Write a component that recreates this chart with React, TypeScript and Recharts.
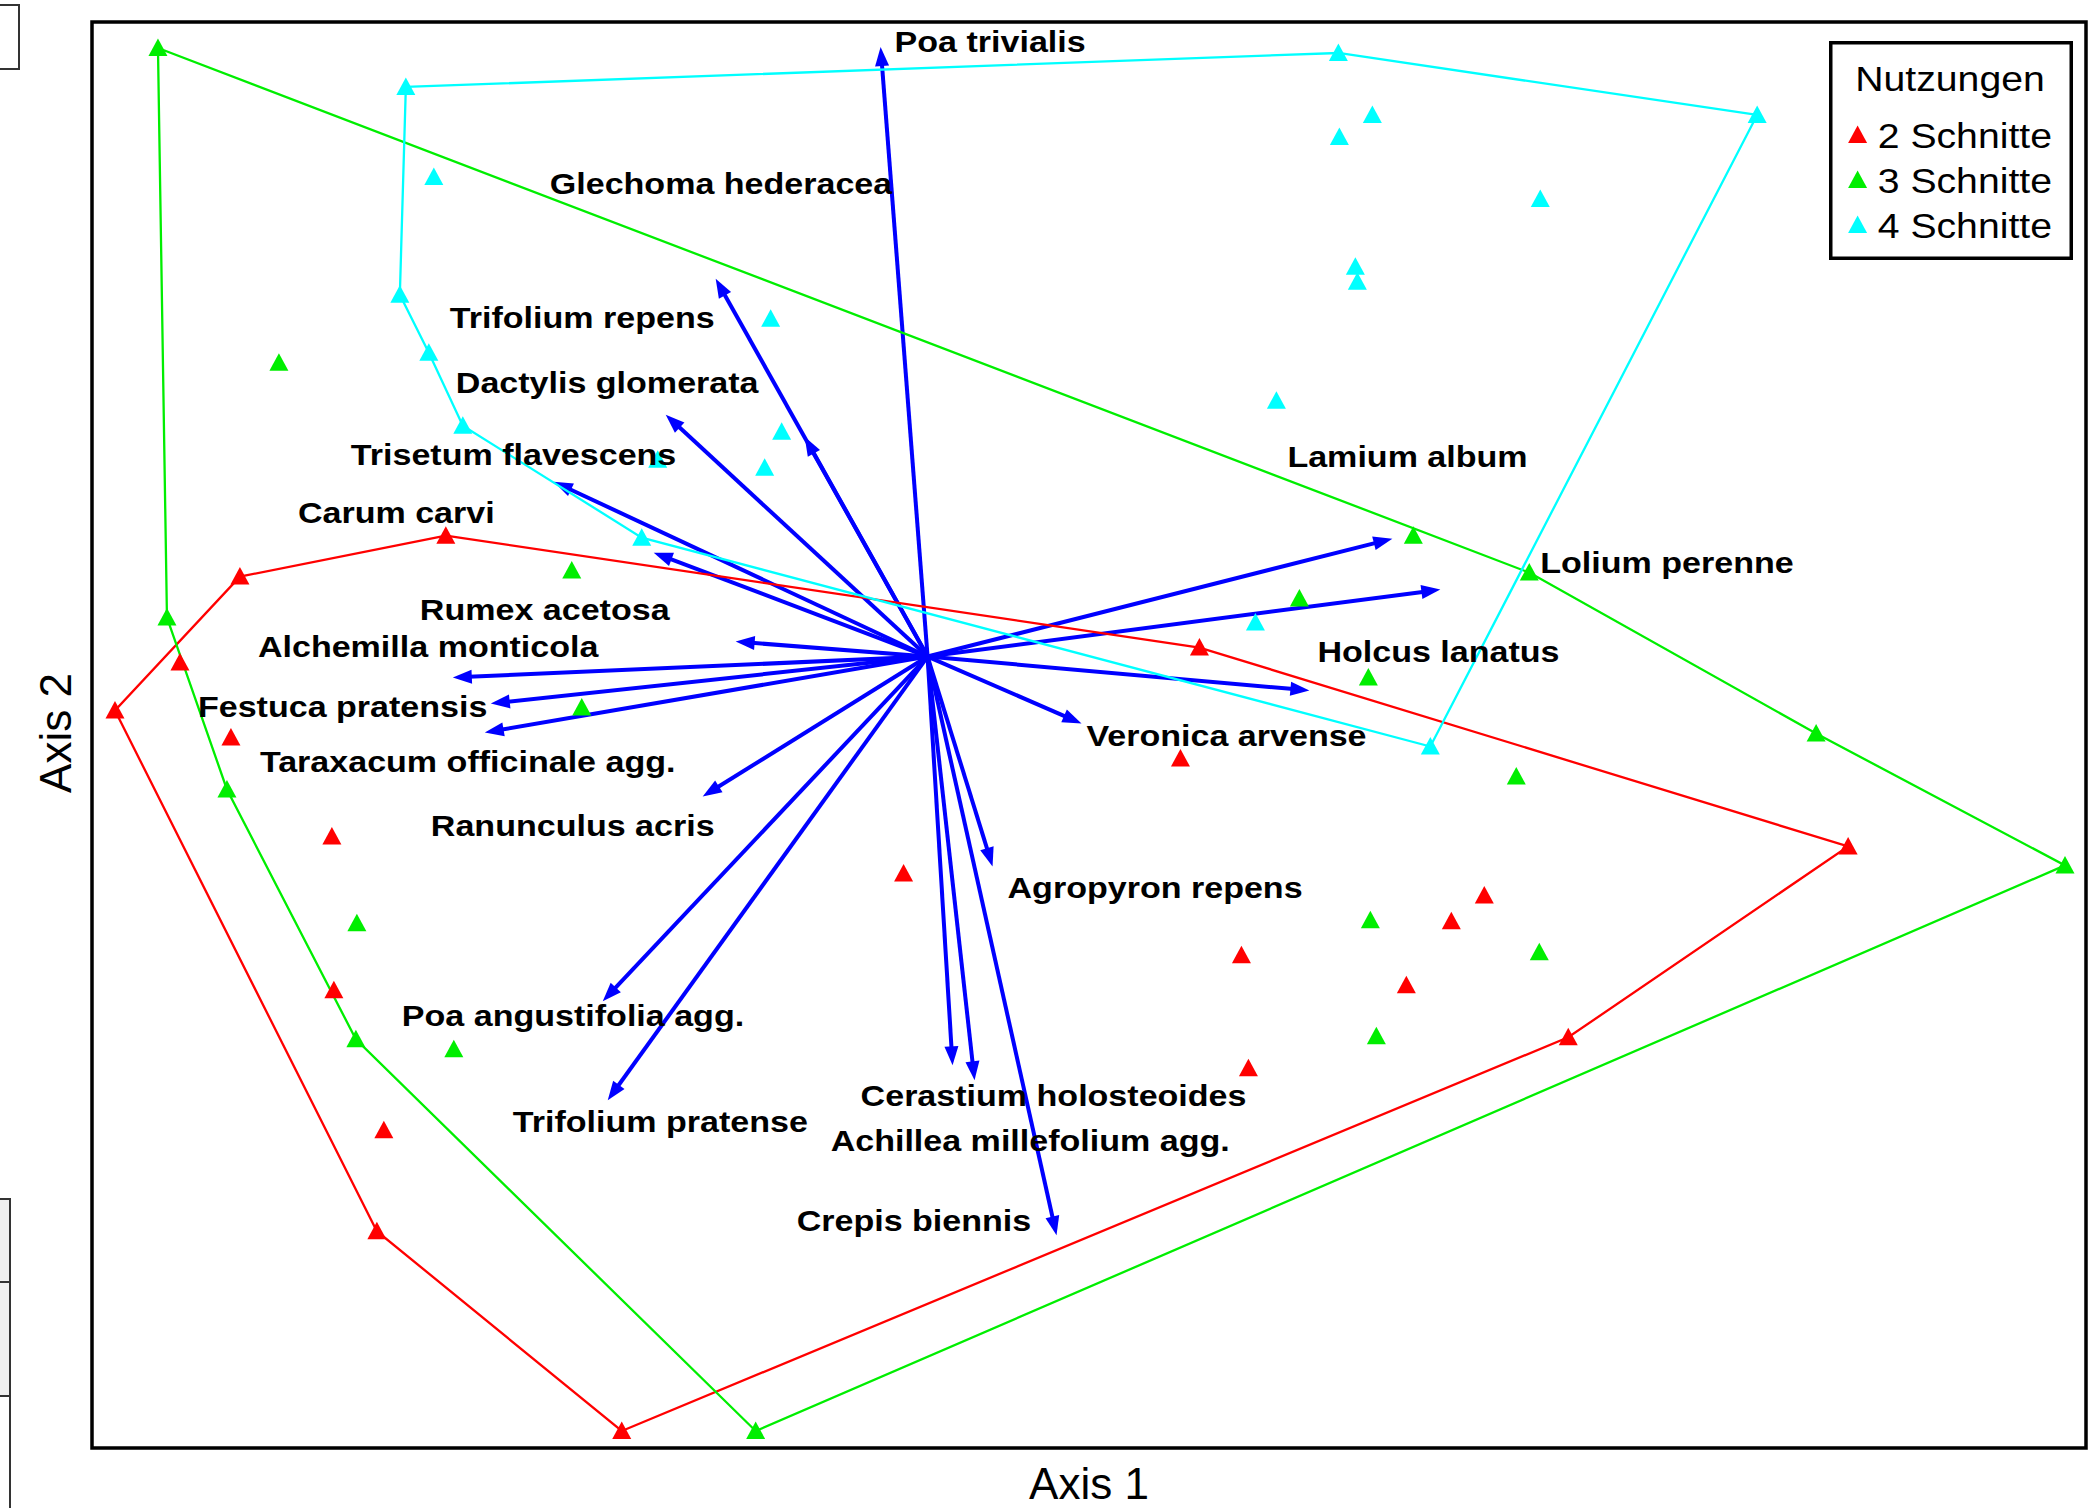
import React from 'react'
import { ScatterChart, Scatter, XAxis, YAxis, ReferenceLine, ReferenceArea, Legend } from 'recharts'

// axis limits (ordination units, origin = centre of the species arrows)
const X_DOMAIN: [number, number] = [-8.36, 11.59]
const Y_DOMAIN: [number, number] = [-7.92, 6.35]

// sites, 2 Schnitte
const cut2X = [-4.82, -6.88, -7.48, -8.13, -6.97, -5.96, -5.94, -5.44, -5.51, -3.06, 6.41, 9.21, 2.72, 2.53, -0.24, 3.14, 3.21, 4.79, 5.24, 5.57]
const cut2Y = [1.21, 0.8, -0.06, -0.54, -0.81, -1.8, -3.34, -4.74, -5.75, -7.75, -3.81, -1.9, 0.09, -1.02, -2.17, -2.99, -4.12, -3.29, -2.65, -2.39]
const cut2Hull = [0, 12, 11, 10, 9, 8, 3, 1, 0]

// sites, 3 Schnitte
const cut3X = [-7.7, -7.61, -7.01, -5.72, -1.72, 11.38, 8.89, 6.02, -6.49, -3.56, -3.46, -5.71, -4.74, 4.86, 3.72, 4.41, 5.89, 4.43, 6.12, 4.49]
const cut3Y = [6.09, 0.39, -1.33, -3.83, -7.75, -2.09, -0.77, 0.84, 2.94, 0.86, -0.51, -2.67, -3.93, 1.21, 0.58, -0.21, -1.2, -2.64, -2.96, -3.8]
const cut3Hull = [0, 7, 6, 5, 4, 3, 2, 1, 0]

// sites, 4 Schnitte
const cut4X = [-5.22, 4.11, 8.3, 5.03, -2.86, -4.65, -4.99, -5.28, -4.94, 4.45, 4.12, 6.13, 4.28, 4.3, 3.49, -1.57, -1.46, -1.63, -2.7, 3.28]
const cut4Y = [5.7, 6.04, 5.42, -0.9, 1.19, 2.31, 3.04, 3.62, 4.8, 5.42, 5.2, 4.58, 3.9, 3.75, 2.56, 3.38, 2.25, 1.89, 1.97, 0.34]
const cut4Hull = [0, 1, 2, 3, 4, 5, 6, 7, 0]

// species vectors
const speciesNames = [
  'Poa trivialis', 'Glechoma hederacea', 'Trifolium repens', 'Dactylis glomerata', 'Trisetum flavescens',
  'Carum carvi', 'Rumex acetosa', 'Alchemilla monticola', 'Festuca pratensis', 'Taraxacum officinale agg.',
  'Ranunculus acris', 'Poa angustifolia agg.', 'Trifolium pratense', 'Cerastium holosteoides',
  'Achillea millefolium agg.', 'Crepis biennis', 'Agropyron repens', 'Veronica arvense', 'Holcus lanatus',
  'Lolium perenne', 'Lamium album',
]
const arrowX = [-0.47, -2.12, -1.23, -2.62, -3.74, -2.74, -1.92, -4.75, -4.37, -4.43, -2.25, -3.25, -3.2, 0.25, 0.47, 1.29, 0.65, 1.54, 3.82, 5.13, 4.65]
const arrowY = [6.1, 3.78, 2.2, 2.42, 1.75, 1.04, 0.15, -0.21, -0.47, -0.76, -1.4, -3.45, -4.44, -4.09, -4.24, -5.79, -2.1, -0.67, -0.34, 0.67, 1.18]
const labelX = [-0.33, -3.78, -4.78, -4.72, -5.77, -6.3, -5.08, -6.7, -7.3, -6.68, -4.97, -5.26, -4.15, -0.67, -0.97, -1.31, 0.8, 1.59, 3.9, 6.13, 3.6]
const labelY = [6.05, 4.63, 3.29, 2.64, 1.92, 1.34, 0.37, 0.0, -0.6, -1.16, -1.8, -3.7, -4.76, -4.5, -4.95, -5.75, -2.42, -0.9, -0.05, 0.84, 1.9]

const groups = [
  { name: '2 Schnitte', color: '#ff0000', xs: cut2X, ys: cut2Y, hull: cut2Hull },
  { name: '3 Schnitte', color: '#00ee00', xs: cut3X, ys: cut3Y, hull: cut3Hull },
  { name: '4 Schnitte', color: '#00ffff', xs: cut4X, ys: cut4Y, hull: cut4Hull },
]

const FONT = '"Liberation Sans", Arial, Helvetica, sans-serif'
const BLUE = '#0000ff'

const triangle = (color: string) => (p: any) => (
  <polygon
    points={`${p.cx},${p.cy - 9.5} ${p.cx - 9.5},${p.cy + 8} ${p.cx + 9.5},${p.cy + 8}`}
    fill={color}
  />
)

const noDot = () => <g />

const SpeciesLabel = (p: any) => {
  const name = p.payload?.name ?? p.name
  return (
    <g transform={`translate(${p.cx},${p.cy}) scale(1.135,1)`}>
      <text x={0} y={0} fontFamily={FONT} fontWeight="bold" fontSize={30} fill="#000">
        {name}
      </text>
    </g>
  )
}

const Arrow = (p: any) => {
  const { x1, y1, x2, y2 } = p
  const a = Math.atan2(y2 - y1, x2 - x1)
  const len = 19
  const half = 7
  const bx = x2 - len * Math.cos(a)
  const by = y2 - len * Math.sin(a)
  const lx = x2 - (len - 3) * Math.cos(a)
  const ly = y2 - (len - 3) * Math.sin(a)
  const pts = `${x2},${y2} ${bx + half * Math.sin(a)},${by - half * Math.cos(a)} ${bx - half * Math.sin(a)},${by + half * Math.cos(a)}`
  return (
    <g>
      <line x1={x1} y1={y1} x2={lx} y2={ly} stroke={BLUE} strokeWidth={4} />
      <polygon points={pts} fill={BLUE} />
    </g>
  )
}

const axis1Label = (props: any) => {
  const vb = props.viewBox ?? { x: 92, y: 1448, width: 1994, height: 60 }
  return (
    <text x={vb.x + vb.width / 2} y={vb.y + 51} textAnchor="middle" fontFamily={FONT} fontSize={44} fill="#000">
      Axis 1
    </text>
  )
}

const axis2Label = (props: any) => {
  const vb = props.viewBox ?? { x: 0, y: 22, width: 92, height: 1426 }
  const x = vb.x + 71
  const y = vb.y + vb.height / 2 - 2
  return (
    <text x={x} y={y} transform={`rotate(-90, ${x}, ${y})`} textAnchor="middle" fontFamily={FONT} fontSize={44} fill="#000">
      Axis 2
    </text>
  )
}

const renderLegend = (props: any) => {
  const items = (props.payload ?? []).filter((e: any) => e.type !== 'none')
  return (
    <svg width={244} height={219} style={{ display: 'block' }}>
      <rect x={1.75} y={1.75} width={240.5} height={215.5} fill="#fff" stroke="#000" strokeWidth={3.5} />
      <g transform="translate(121,50) scale(1.12,1)">
        <text x={0} y={0} textAnchor="middle" fontFamily={FONT} fontSize={35} fill="#000">Nutzungen</text>
      </g>
      {items.map((e: any, i: number) => {
        const cy = 94 + i * 45
        return (
          <g key={e.value}>
            <polygon points={`28.6,${cy - 9.5} 19.1,${cy + 8} 38.1,${cy + 8}`} fill={e.color} />
            <g transform={`translate(48.7,${cy + 13}) scale(1.12,1)`}>
              <text x={0} y={0} fontFamily={FONT} fontSize={35} fill="#000">{e.value}</text>
            </g>
          </g>
        )
      })}
    </svg>
  )
}

export default function App() {
  const labelData = speciesNames.map((name, i) => ({ x: labelX[i], y: labelY[i], name }))

  return (
    <div style={{ position: 'absolute', left: 0, top: 0, width: 2098, height: 1508, background: '#fff', overflow: 'hidden' }}>
      {/* fragments of neighbouring panels at the left edge */}
      <div style={{ position: 'absolute', left: -4, top: 4, width: 24, height: 66, border: '2px solid #333', boxSizing: 'border-box' }} />
      <div style={{ position: 'absolute', left: -4, top: 1198, width: 15, height: 85, border: '2px solid #333', background: '#f0f0f0', boxSizing: 'border-box' }} />
      <div style={{ position: 'absolute', left: -4, top: 1281, width: 15, height: 116, border: '2px solid #333', background: '#f0f0f0', boxSizing: 'border-box' }} />
      <div style={{ position: 'absolute', left: -4, top: 1395, width: 15, height: 120, border: '2px solid #333', background: '#fff', boxSizing: 'border-box' }} />

      <ScatterChart width={2098} height={1508} margin={{ top: 22, right: 12, bottom: 0, left: 0 }} style={{ position: 'absolute', left: 0, top: 0 }}>
        <XAxis
          type="number"
          dataKey="x"
          domain={X_DOMAIN}
          allowDataOverflow
          height={60}
          tick={false}
          tickLine={false}
          axisLine={false}
          label={axis1Label}
        />
        <YAxis
          type="number"
          dataKey="y"
          domain={Y_DOMAIN}
          allowDataOverflow
          width={92}
          tick={false}
          tickLine={false}
          axisLine={false}
          label={axis2Label}
        />

        {groups.map((g) => (
          <Scatter
            key={`hull-${g.name}`}
            name={`hull ${g.name}`}
            data={g.hull.map((k) => ({ x: g.xs[k], y: g.ys[k] }))}
            line={{ stroke: g.color, strokeWidth: 2.3 }}
            lineType="joint"
            shape={noDot}
            legendType="none"
            isAnimationActive={false}
          />
        ))}

        {groups.map((g) => (
          <Scatter
            key={g.name}
            name={g.name}
            data={g.xs.map((x, i) => ({ x, y: g.ys[i] }))}
            fill={g.color}
            shape={triangle(g.color)}
            legendType="triangle"
            isAnimationActive={false}
          />
        ))}

        <Scatter
          name="labels"
          data={labelData}
          shape={SpeciesLabel}
          legendType="none"
          isAnimationActive={false}
        />

        {speciesNames.map((name, i) => (
          <ReferenceLine
            key={name}
            segment={[{ x: 0, y: 0 }, { x: arrowX[i], y: arrowY[i] }]}
            shape={Arrow}
            stroke={BLUE}
          />
        ))}

        <ReferenceArea
          x1={X_DOMAIN[0]}
          x2={X_DOMAIN[1]}
          y1={Y_DOMAIN[0]}
          y2={Y_DOMAIN[1]}
          fill="none"
          fillOpacity={0}
          stroke="#000"
          strokeWidth={3.5}
          ifOverflow="visible"
        />

        <Legend
          layout="vertical"
          align="center"
          verticalAlign="middle"
          content={renderLegend}
          wrapperStyle={{ left: 1829, top: 41, width: 244, height: 219 }}
        />
      </ScatterChart>
    </div>
  )
}
